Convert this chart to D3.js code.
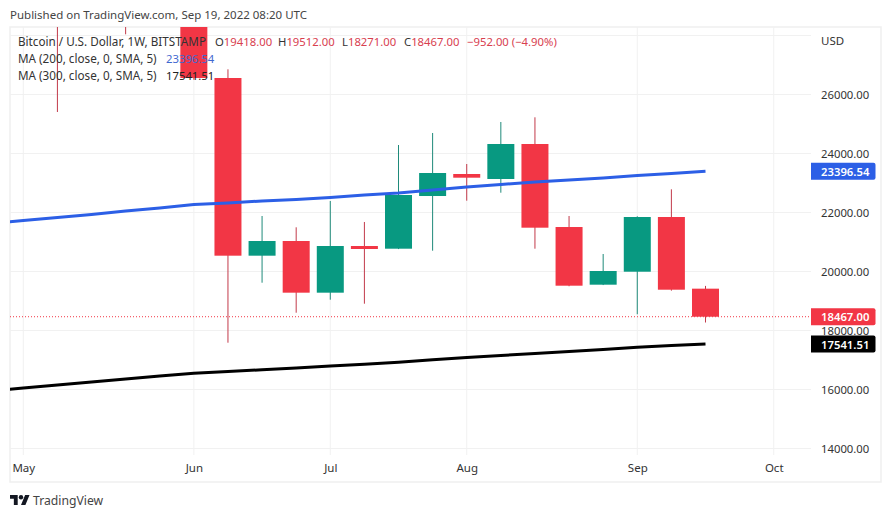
<!DOCTYPE html>
<html>
<head>
<meta charset="utf-8">
<script src="https://cdn.jsdelivr.net/npm/d3@7"></script>
<style>
body{margin:0;background:#fff}
svg{display:block}
text{font-family:"Noto Sans",sans-serif}
</style>
</head>
<body>
<div id="chart"></div>
<script>
// weekly bars, bitstamp BTCUSD. first few open above the pane so only wicks show
let weeks=['2022-05-09','2022-05-16','2022-05-23','2022-05-30','2022-06-06','2022-06-13','2022-06-20','2022-06-27','2022-07-04','2022-07-11','2022-07-18','2022-07-25','2022-08-01','2022-08-08','2022-08-15','2022-08-22','2022-08-29','2022-09-05','2022-09-12','2022-09-19']
let opens=[34050,30300,29450,28600,29900,26559,20536,21034,19282,20864,20773,22559,23305,23136,24322,21508,19553,19993,21847,19418]
let highs=[34250,30700,30500,32300,31700,26854,21881,21498,22390,21678,24288,24695,23644,25068,25227,21881,20593,21871,22786,19512]
let lows=[25407,28650,28040,29300,26500,17586,19620,18603,19044,18908,20760,20705,22400,22671,20773,19500,19540,18550,19350,18271]
let closes=[30300,29450,28600,29900,26559,20536,21034,19282,20864,20763,22593,23339,23180,24322,21485,19519,20017,21847,19383,18467]

let maWeeks=['2022-04-25','2022-05-02'].concat(weeks)
let ma200=[21610,21729,21831,21932,22051,22153,22271,22322,22390,22441,22508,22593,22661,22763,22864,22949,23034,23102,23169,23254,23322,23396.54]
let ma300=[15942,16051,16153,16254,16356,16458,16549,16610,16668,16729,16797,16858,16922,17007,17085,17153,17220,17288,17356,17431,17488,17541.51]

let priceTicks=[14000,16000,18000,20000,22000,24000,26000]
let priceGrid=priceTicks.concat([28000])
let monthDates=['2022-05-02','2022-06-06','2022-07-04','2022-08-01','2022-09-05','2022-10-03']
let monthLabels=['May','Jun','Jul','Aug','Sep','Oct']

let lastClose=18467
let w=891, h=518
let up='#089981', down='#f23645', blue='#2c5fe6'
let parse=d3.utcParse('%Y-%m-%d')

let x=d3.scaleUtc().domain([parse('2022-05-02'),parse('2022-09-19')]).range([23.3,705.5])
let y=d3.scaleLinear().domain([14000,26000]).range([448.5,94.5])

let svg=d3.select('#chart').append('svg').attr('width',w).attr('height',h)
svg.append('clipPath').attr('id','pane').append('rect').attr('x',10).attr('y',27).attr('width',801).attr('height',429)

// frame
svg.append('rect').attr('x',10).attr('y',27).attr('width',871).attr('height',455).attr('fill','none').attr('stroke','#efefef').attr('stroke-width',1.5)

// grid
svg.selectAll('.hgrid').data(priceGrid).enter().append('line').attr('class','hgrid')
    .attr('x1',10).attr('x2',811).attr('y1',d=>y(d)).attr('y2',d=>y(d)).attr('stroke','#f1f1f1')
svg.selectAll('.vgrid').data(monthDates).enter().append('line').attr('class','vgrid')
    .attr('x1',d=>x(parse(d))).attr('x2',d=>x(parse(d))).attr('y1',27).attr('y2',455).attr('stroke','#f1f1f1')

// candles
let pane=svg.append('g').attr('clip-path','url(#pane)')
let isUp=i=>closes[i]>=opens[i]
pane.selectAll('.wick').data(weeks).enter().append('line').attr('class','wick')
    .attr('x1',d=>x(parse(d))).attr('x2',d=>x(parse(d)))
    .attr('y1',(d,i)=>y(highs[i])).attr('y2',(d,i)=>y(lows[i]))
    .attr('stroke',(d,i)=>isUp(i)?'#1f8a7a':'#c23a4a').attr('stroke-width',1)
pane.selectAll('.body').data(weeks).enter().append('rect').attr('class','body')
    .attr('x',d=>x(parse(d))-13.5).attr('width',27)
    .attr('y',(d,i)=>y(Math.max(opens[i],closes[i])))
    .attr('height',(d,i)=>Math.abs(y(opens[i])-y(closes[i])))
    .attr('fill',(d,i)=>isUp(i)?up:down)

// last price dotted line
svg.append('line').attr('x1',10).attr('x2',811).attr('y1',y(lastClose)).attr('y2',y(lastClose))
    .attr('stroke',down).attr('stroke-dasharray','1 2')

// moving averages
let line=d3.line().x((d,i)=>x(parse(maWeeks[i]))).y(d=>y(d))
pane.append('path').attr('d',line(ma200)).attr('fill','none').attr('stroke',blue).attr('stroke-width',3)
pane.append('path').attr('d',line(ma300)).attr('fill','none').attr('stroke','#000').attr('stroke-width',3)

// axes
let yAxis=d3.axisRight(y).tickValues(priceTicks).tickSize(0).tickPadding(10).tickFormat(d3.format('.2f'))
let gy=svg.append('g').attr('transform','translate(811,0)').call(yAxis)
gy.select('.domain').remove()
gy.selectAll('text').attr('font-size',11.3).attr('fill','#333').style('font-family','"Noto Sans",sans-serif')

let xAxis=d3.axisBottom(x).tickValues(monthDates.map(parse)).tickSize(0).tickPadding(0).tickFormat((d,i)=>monthLabels[i])
let gx=svg.append('g').attr('transform','translate(0,464)').call(xAxis)
gx.select('.domain').remove()
gx.selectAll('text').attr('font-size',11.5).attr('fill','#333').style('font-family','"Noto Sans",sans-serif')

svg.append('text').text('USD').attr('x',821).attr('y',45).attr('font-size',11.5).attr('fill','#333')

// price tags
let tags=[[23396.54,blue],[18467,down],[17541.51,'#000']]
svg.selectAll('.tag').data(tags).enter().append('path').attr('class','tag')
    .attr('d',d=>{
        let t=y(d[0])-8.5
        return 'M811,'+t+'h62.5a2,2 0 0 1 2,2v13a2,2 0 0 1 -2,2h-62.5z'
    }).attr('fill',d=>d[1])
svg.selectAll('.tagtext').data(tags).enter().append('text').attr('class','tagtext')
    .text(d=>d3.format('.2f')(d[0])).attr('x',821).attr('y',d=>y(d[0])+4.5)
    .attr('font-size',11.3).attr('font-weight',600).attr('fill','#fff')

// header and legend
svg.append('text').text('Published on TradingView.com, Sep 19, 2022 08:20 UTC').attr('x',10).attr('y',19).attr('font-size',11.5).attr('fill','#444')

let legend=svg.append('g').attr('font-size',11.7)
legend.append('text').text('Bitcoin / U.S. Dollar, 1W, BITSTAMP').attr('x',18).attr('y',46).attr('fill','#333')
let ohlc=[['O',215,'19418.00'],['H',278,'19512.00'],['L',342,'18271.00'],['C',404,'18467.00']]
ohlc.forEach(o=>{
    let t=legend.append('text').attr('x',o[1]).attr('y',46).attr('fill','#333').attr('font-size',11.3)
    t.append('tspan').text(o[0])
    t.append('tspan').text(o[2]).attr('fill','#d8404f')
})
legend.append('text').text('\u2212952.00 (\u22124.90%)').attr('x',467).attr('y',46).attr('fill','#d8404f').attr('font-size',11.3)
legend.append('text').text('MA (200, close, 0, SMA, 5)').attr('x',18).attr('y',63).attr('fill','#333')
legend.append('text').text('23396.54').attr('x',166).attr('y',63).attr('fill','#3f68d0').attr('font-size',11.3)
legend.append('text').text('MA (300, close, 0, SMA, 5)').attr('x',18).attr('y',80).attr('fill','#333')
legend.append('text').text('17541.51').attr('x',166).attr('y',80).attr('fill','#222').attr('font-size',11.3)

// logo
let logo=svg.append('g').attr('transform','translate(10,492.8) scale(0.55)').attr('fill','#131722')
logo.append('path').attr('d','M14 22H7V11H0V4h14v18zM28 22h-8l7.5-18h8L28 22z')
logo.append('circle').attr('cx',20).attr('cy',8).attr('r',4)
svg.append('text').text('TradingView').attr('x',33).attr('y',504.5).attr('font-size',12.2).attr('fill','#444')
</script>
</body>
</html>
